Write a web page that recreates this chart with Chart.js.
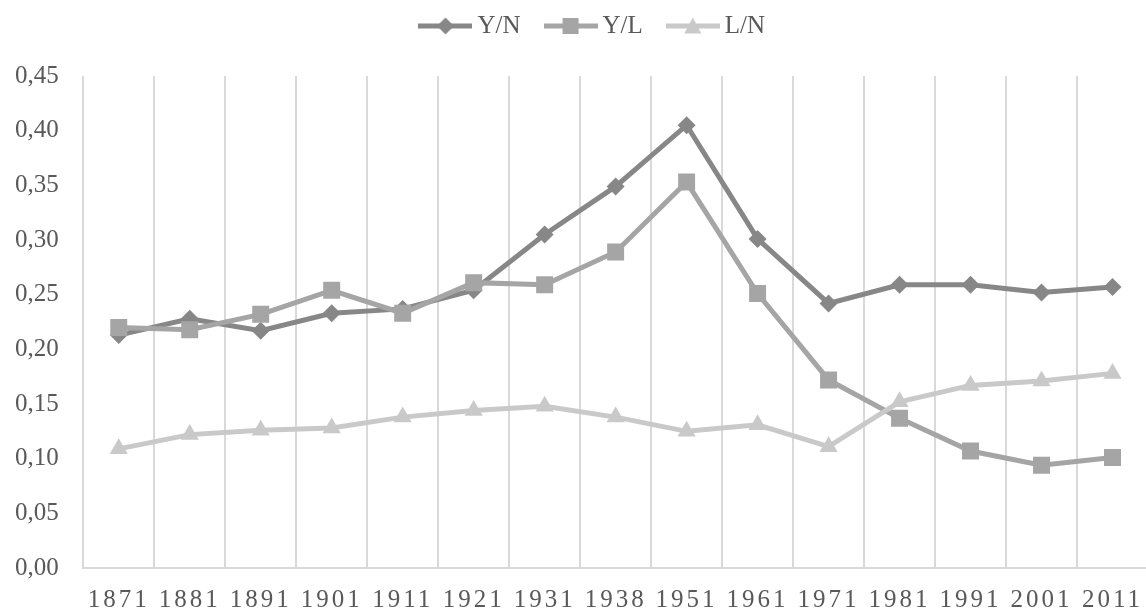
<!DOCTYPE html>
<html>
<head>
<meta charset="utf-8">
<script src="https://cdn.jsdelivr.net/npm/chart.js@4/dist/chart.umd.min.js"></script>
<style>
  html, body { margin: 0; padding: 0; background: #fff; overflow: hidden; }
  #wrap { width: 1160px; height: 614px; }
</style>
</head>
<body>
<div id="wrap"><canvas id="ratioChart" width="1160" height="614"></canvas></div>
<script>
// Data
const years = ["1871", "1881", "1891", "1901", "1911", "1921", "1931", "1938", "1951", "1961", "1971", "1981", "1991", "2001", "2011"];
const yN = [0.213, 0.228, 0.217, 0.233, 0.237, 0.254, 0.305, 0.349, 0.405, 0.301, 0.242, 0.259, 0.259, 0.252, 0.257];
const yL = [0.220, 0.218, 0.232, 0.254, 0.233, 0.261, 0.259, 0.289, 0.353, 0.251, 0.172, 0.137, 0.107, 0.094, 0.101];
const lN = [0.109, 0.122, 0.126, 0.128, 0.138, 0.144, 0.148, 0.138, 0.125, 0.131, 0.111, 0.152, 0.167, 0.171, 0.178];
const yTicks = [0, 0.05, 0.10, 0.15, 0.20, 0.25, 0.30, 0.35, 0.40, 0.45];

const FONT = "'Liberation Serif', 'Times New Roman', serif";
const TEXT = "#595959";
const GRID = "#d9d9d9";

// legend nudge (Excel puts the legend a little higher / right of where Chart.js would)
const LEGEND_DX = 11;
const LEGEND_DY = -27.5;

// line + marker icon for the legend, like Excel draws it
function legendIcon(color, shape) {
    const c = document.createElement("canvas");
    c.width = 54;
    c.height = 20;
    const g = c.getContext("2d");
    g.strokeStyle = color;
    g.fillStyle = color;
    g.lineWidth = 5;
    g.beginPath();
    g.moveTo(0, 10);
    g.lineTo(54, 10);
    g.stroke();
    g.beginPath();
    if (shape === "diamond") {
        g.moveTo(27, 1.5); g.lineTo(35.5, 10); g.lineTo(27, 18.5); g.lineTo(18.5, 10);
    } else if (shape === "square") {
        g.rect(19, 2, 16, 16);
    } else {
        g.moveTo(27, 1.5); g.lineTo(35.5, 17.5); g.lineTo(18.5, 17.5);
    }
    g.closePath();
    g.fill();
    return c;
}

const icons = [
    legendIcon("#878787", "diamond"),
    legendIcon("#a5a5a5", "square"),
    legendIcon("#c9c9c9", "triangle")
];

const legendShift = {
    id: "legendShift",
    afterLayout(chart) {
        const l = chart.legend;
        if (!l) return;
        l.left += LEGEND_DX;
        l.right += LEGEND_DX;
        l.top += LEGEND_DY;
        l.bottom += LEGEND_DY;
    }
};

// x labels in the reference are letter-spaced; they're drawn after the datasets (ticks z:1)
const tickSpacing = {
    id: "tickSpacing",
    afterDatasetsDraw(chart) { chart.ctx.letterSpacing = "3px"; },
    afterDraw(chart) { chart.ctx.letterSpacing = "0px"; }
};

const ctx = document.getElementById("ratioChart").getContext("2d");
new Chart(ctx, {
    type: "line",
    data: {
        labels: years,
        datasets: [
            {
                label: "Y/N",
                data: yN,
                borderColor: "#878787",
                backgroundColor: "#878787",
                borderWidth: 5,
                pointStyle: "rectRot",
                pointRadius: 9,
                pointBorderWidth: 0,
                order: 3
            },
            {
                label: "Y/L",
                data: yL,
                borderColor: "#a5a5a5",
                backgroundColor: "#a5a5a5",
                borderWidth: 5,
                pointStyle: "rect",
                pointRadius: 12,
                pointBorderWidth: 0,
                order: 2
            },
            {
                label: "L/N",
                data: lN,
                borderColor: "#c9c9c9",
                backgroundColor: "#c9c9c9",
                borderWidth: 5,
                pointStyle: "triangle",
                pointRadius: 10.5,
                pointBorderWidth: 0,
                order: 1
            }
        ]
    },
    options: {
        responsive: false,
        animation: false,
        devicePixelRatio: 1,
        layout: { padding: { left: 15, right: 6, top: 10.5, bottom: 1 } },
        elements: { line: { tension: 0 } },
        plugins: {
            tooltip: { enabled: false },
            legend: {
                position: "top",
                labels: {
                    usePointStyle: true,
                    pointStyleWidth: 39,
                    padding: 30.5,
                    color: TEXT,
                    font: { family: FONT, size: 25 },
                    sort: (a, b) => a.datasetIndex - b.datasetIndex,
                    generateLabels(chart) {
                        const items = Chart.defaults.plugins.legend.labels.generateLabels(chart);
                        items.forEach(item => { item.pointStyle = icons[item.datasetIndex]; });
                        return items;
                    }
                }
            }
        },
        scales: {
            x: {
                offset: true,
                grid: { offset: true, color: GRID, lineWidth: 2, drawTicks: false },
                border: { color: GRID, width: 2 },
                ticks: {
                    color: TEXT,
                    font: { family: FONT, size: 25, lineHeight: 1 },
                    padding: 20,
                    maxRotation: 0,
                    autoSkip: false,
                    z: 1
                },
                // Chart.js reserves the tick padding twice; keep it once
                afterFit(axis) { axis.height -= axis.options.ticks.padding; }
            },
            y: {
                min: 0,
                max: 0.45,
                afterBuildTicks(axis) { axis.ticks = yTicks.map(v => ({ value: v })); },
                grid: { display: false, drawTicks: false },
                border: { display: false },
                ticks: {
                    color: TEXT,
                    font: { family: FONT, size: 25 },
                    padding: 24.5,
                    callback: v => v.toFixed(2).replace(".", ",")
                },
                afterFit(axis) { axis.width -= axis.options.ticks.padding; }
            }
        }
    },
    plugins: [legendShift, tickSpacing]
});
</script>
</body>
</html>
